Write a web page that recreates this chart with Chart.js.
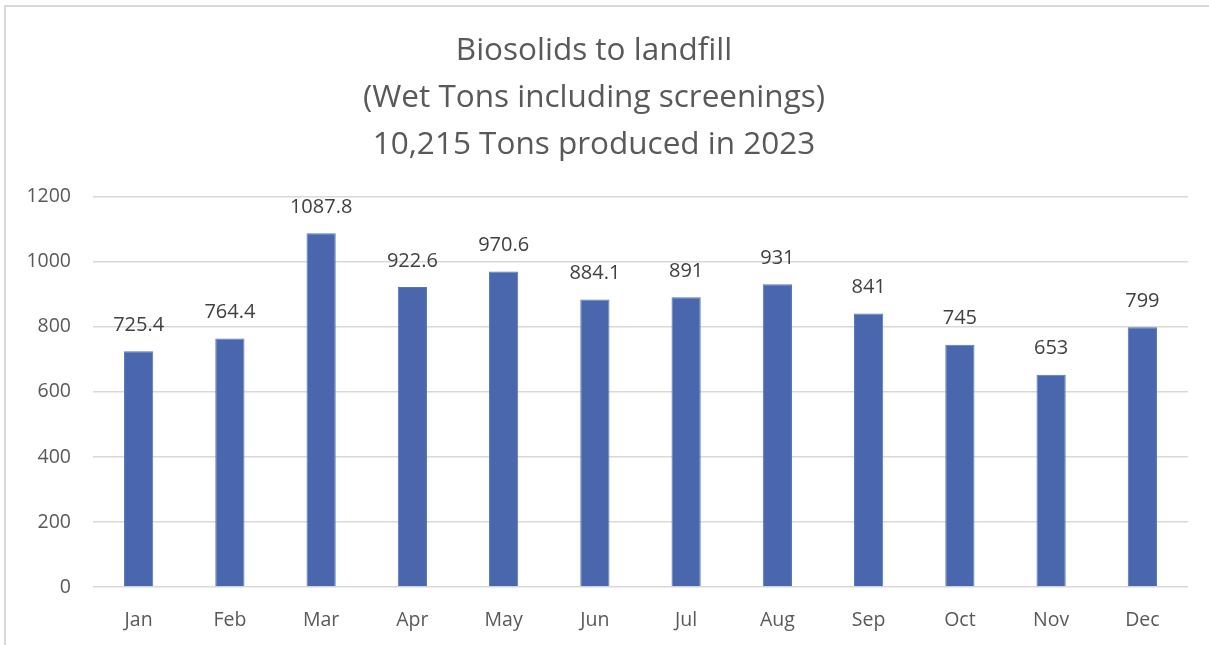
<!DOCTYPE html>
<html><head><meta charset="utf-8">
<script src="https://cdn.jsdelivr.net/npm/chart.js@4"></script>
<style>
html,body{margin:0;padding:0;background:#fff;width:1209px;height:645px;overflow:hidden;}
#frame{position:absolute;left:4px;top:5px;width:1220px;height:660px;border:2px solid #d9d9d9;box-sizing:border-box;}
#wrap{position:absolute;left:0;top:0;width:1209px;height:645px;}
</style></head>
<body>
<div id="frame"></div>
<div id="wrap"><canvas id="c" width="1209" height="645"></canvas></div>
<script>
const categories = ["Jan","Feb","Mar","Apr","May","Jun","Jul","Aug","Sep","Oct","Nov","Dec"];
const values = [725.4, 764.4, 1087.8, 922.6, 970.6, 884.1, 891, 931, 841, 745, 653, 799];
const valueLabels = ["725.4","764.4","1087.8","922.6","970.6","884.1","891","931","841","745","653","799"];
const titleLines = ["Biosolids to landfill","(Wet Tons including screenings)","10,215 Tons produced in 2023"];
const yTicks = [0,200,400,600,800,1000,1200];

const FONT = "'Open Sans', 'Noto Sans', sans-serif";

const labelPlugin = {
  id: 'valueLabels',
  afterDatasetsDraw(chart) {
    const ctx = chart.ctx;
    const meta = chart.getDatasetMeta(0);
    ctx.save();
    ctx.font = "20px " + FONT;
    ctx.fillStyle = "#404040";
    ctx.textAlign = "center";
    ctx.textBaseline = "middle";
    meta.data.forEach((bar, i) => {
      ctx.fillText(valueLabels[i], bar.x, bar.y - 26);
    });
    ctx.restore();
  }
};

new Chart(document.getElementById('c'), {
  type: 'bar',
  data: {
    labels: categories,
    datasets: [{
      data: values,
      backgroundColor: '#4A67AD',
      borderColor: '#5574bb',
      borderWidth: 1,
      categoryPercentage: 1,
      barPercentage: 0.32
    }]
  },
  options: {
    responsive: false,
    animation: false,
    layout: { padding: { left: 0, right: 21, top: 0, bottom: 0 } },
    plugins: {
      legend: { display: false },
      tooltip: { enabled: false },
      title: {
        display: true,
        text: titleLines,
        color: '#595959',
        font: { family: FONT, size: 31.5, weight: 'normal', lineHeight: 1.48 },
        padding: { top: 28, bottom: 29 }
      }
    },
    scales: {
      x: {
        grid: { display: false },
        border: { display: false },
        ticks: { color: '#595959', font: { family: FONT, size: 19.5 }, padding: 14 },
        afterFit(s) { s.height = 58; }
      },
      y: {
        min: 0, max: 1200,
        afterBuildTicks(s) { s.ticks = yTicks.map(v => ({ value: v })); },
        grid: { color: '#d9d9d9', lineWidth: 1.5, drawTicks: false },
        border: { display: false },
        ticks: { color: '#595959', font: { family: FONT, size: 19.5 }, padding: 22,
                 callback: (v) => String(v) },
        afterFit(s) { s.width = 93; }
      }
    }
  },
  plugins: [labelPlugin]
});
</script>
</body></html>
